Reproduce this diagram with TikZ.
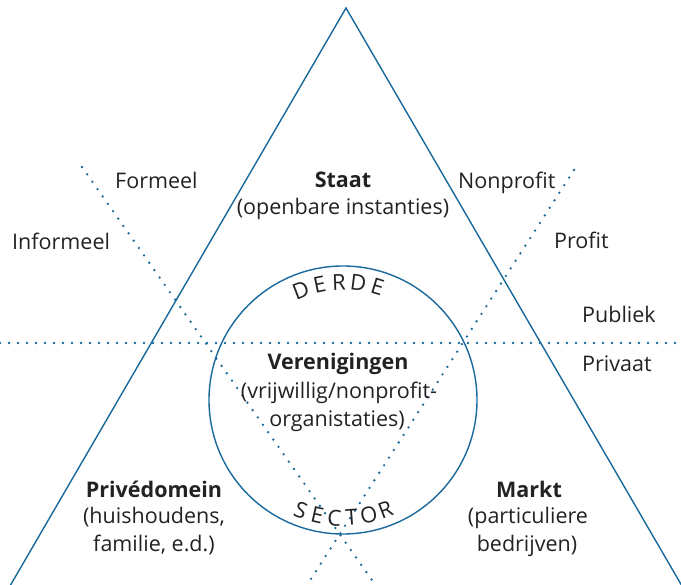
\documentclass[tikz,border=0pt]{standalone}
\usepackage{fontspec}
\setmainfont{Open Sans}
\usetikzlibrary{calc}
\definecolor{lineblue}{RGB}{24,104,156}
\definecolor{ink}{RGB}{35,33,35}
\tikzset{
  solidline/.style={draw=lineblue, line width=1.4pt, line join=miter},
  dotline/.style={draw=lineblue, line width=2.6pt, line cap=round, dash pattern=on 0pt off 9pt},
  lbl/.style={inner sep=0pt, text=ink, font=\fontsize{21.5}{26}\selectfont},
  bold/.style={lbl, font=\fontsize{21.5}{26}\selectfont\bfseries},
  arcletter/.style={inner sep=0pt, text=ink, font=\fontsize{22}{24}\selectfont},
}
\begin{document}
\begin{tikzpicture}[x=1pt,y=-1pt]
\useasboundingbox (0,0) rectangle (681,585);
% geometry
\coordinate (apex) at (346,8);
\coordinate (bl) at (10,586);
\coordinate (br) at (682,586);
\coordinate (hl) at (0,343);
\coordinate (hr) at (681,343);
\coordinate (d1a) at (82,167);
\coordinate (d1b) at (374,583);
\coordinate (d2a) at (574,170);
\coordinate (d2b) at (309,582);
\coordinate (c) at (343,400);
% triangle
\draw[solidline] (bl) -- (apex) -- (br);
% circle
\draw[solidline] (c) circle[radius=134];
% dotted lines
\draw[dotline] (hl) -- (hr);
\draw[dotline] (d1a) -- (d1b);
\draw[dotline] (d2a) -- (d2b);
% side labels
\node[lbl, anchor=base west] (formeel) at (115,189) {Formeel};
\node[lbl, anchor=base west] (informeel) at (12,250) {Informeel};
\node[lbl, anchor=base west] (nonprofit) at (458,189) {Nonprofit};
\node[lbl, anchor=base west] (profit) at (554,249) {Profit};
\node[lbl, anchor=base west] (publiek) at (582,323) {Publiek};
\node[lbl, anchor=base west] (privaat) at (582,372) {Privaat};
% Staat
\node[bold, anchor=base] (staat) at (343,188) {Staat};
\node[lbl, anchor=base] (staatsub) at (343,215) {(openbare instanties)};
% Verenigingen
\node[bold, anchor=base] (ver) at (338,370) {Verenigingen};
\node[lbl, anchor=base] (ver2) at (339,399) {(vrijwillig/nonprofit-};
\node[lbl, anchor=base] (ver3) at (337,427) {organistaties)};
% Privedomein
\node[bold, anchor=base] (priv) at (154,498) {Privédomein};
\node[lbl, anchor=base] (priv2) at (154,524) {(huishoudens,};
\node[lbl, anchor=base] (priv3) at (154,551) {familie, e.d.)};
% Markt
\node[bold, anchor=base] (markt) at (529,498) {Markt};
\node[lbl, anchor=base] (markt2) at (528,524) {(particuliere};
\node[lbl, anchor=base] (markt3) at (527,551) {bedrijven)};
% DERDE along the top of the circle
\foreach \ch [count=\i] in {D,E,R,D,E} {
  \pgfmathsetmacro{\ang}{111-(\i-1)*9.5}
  \node[arcletter, rotate=\ang-90] (derde\i) at ($(c)+(\ang:118pt)$) {\ch};
}
% SECTOR along the bottom of the circle
\foreach \ch [count=\i] in {S,E,C,T,O,R} {
  \pgfmathsetmacro{\ang}{-111+(\i-1)*8.4}
  \node[arcletter, rotate=\ang+90] (sector\i) at ($(c)+(\ang:118pt)$) {\ch};
}
\end{tikzpicture}
\end{document}
